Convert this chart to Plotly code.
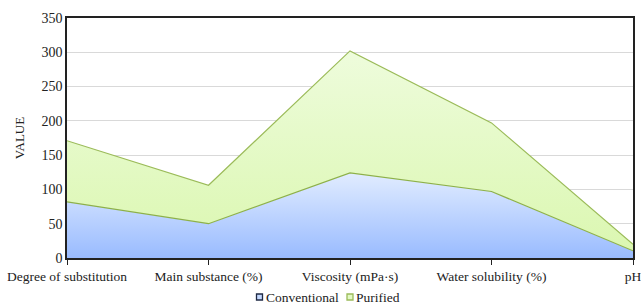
import plotly.graph_objects as go

categories = ["Degree of substitution", "Main substance (%)", "Viscosity (mPa·s)", "Water solubility (%)", "pH"]
conventional = [82, 50, 124, 97, 10.5]
purified = [89, 56, 178, 100, 9.5]   # stacked on top of Conventional
y_ticks = [0, 50, 100, 150, 200, 250, 300, 350]
series_names = ["Conventional", "Purified"]

font = "Liberation Serif, Times New Roman, serif"
W, H = 641, 306
# plot area in pixels: x 67..633, y 18..258
L, T = 67, 18
R, B = W - 633, H - 258
pw, ph = W - L - R, H - T - B


def px(x):  # pixel -> paper
    return (x - L) / pw


def py(y):
    return (H - B - y) / ph


fig = go.Figure()
fig.add_trace(go.Scatter(
    x=categories, y=conventional, name=series_names[0], mode="lines",
    stackgroup="one", line=dict(color="#8db04a", width=1.2),
    fillcolor="#c5d9ff", showlegend=False,
    fillgradient=dict(type="vertical", colorscale=[[0, "#99bbff"], [1, "#e1ecff"]]),
))
fig.add_trace(go.Scatter(
    x=categories, y=purified, name=series_names[1], mode="lines",
    stackgroup="one", line=dict(color="#9bbb59", width=1.2),
    fillcolor="#e2f9c4", showlegend=False,
    fillgradient=dict(type="vertical", colorscale=[[0, "#dbf7b1"], [1, "#eefcdc"]]),
))

# manual legend (square swatch immediately followed by text)
legend_items = [
    (256.5, 263.5, series_names[0], "#c5d9ff", "#1f2a44"),
    (347, 354, series_names[1], "#e2f9c4", "#9bbb59"),
]
for x0, tx, name, fc, lc in legend_items:
    fig.add_shape(type="rect", xref="paper", yref="paper",
                  x0=px(x0), x1=px(x0 + 6), y0=py(300), y1=py(294),
                  fillcolor=fc, line=dict(color=lc, width=1.3))
    fig.add_annotation(xref="paper", yref="paper", x=px(tx), y=py(297.5),
                       xanchor="left", yanchor="middle", text=name, showarrow=False,
                       font=dict(size=13.5, family=font, color="#222"))

fig.update_layout(
    width=W, height=H,
    margin=dict(l=L, r=R, t=T, b=B, autoexpand=False),
    paper_bgcolor="white", plot_bgcolor="white",
    font=dict(family=font, size=13.5, color="#222"),
    showlegend=False,
    xaxis=dict(type="category", range=[0, 4], showgrid=False, automargin=False,
               showline=True, linecolor="#222", linewidth=1.5, mirror=True,
               ticks="outside", ticklen=5, tickcolor="#222", ticklabeloverflow="allow"),
    yaxis=dict(range=[0, 350], tickvals=y_ticks, showgrid=True, gridcolor="#d9d9d9",
               showline=True, linecolor="#222", linewidth=1.5, mirror=True, automargin=False,
               ticks="", tickfont=dict(size=14),
               title=dict(text="VALUE", font=dict(size=13), standoff=14), zeroline=False),
)
fig.write_html("out.html", config={"displayModeBar": False},
               post_script="document.body.style.margin='0';document.body.style.overflow='hidden';")
